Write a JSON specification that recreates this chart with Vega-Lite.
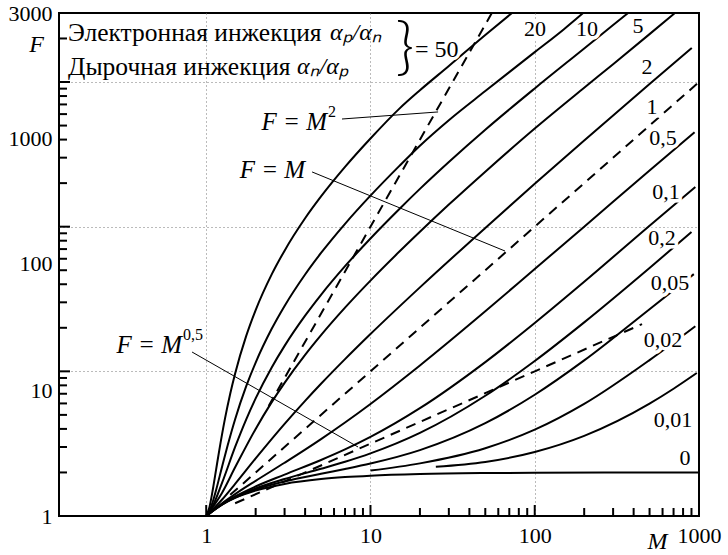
{
  "$schema": "https://vega.github.io/schema/vega-lite/v6.json",
  "width": 640,
  "height": 503,
  "autosize": {"type": "none"},
  "padding": {"left": 59, "top": 13, "right": 29, "bottom": 39},
  "background": "white",
  "config": {
    "view": {"stroke": "black", "strokeWidth": 2},
    "font": "Liberation Serif",
    "text": {"font": "Liberation Serif", "color": "black"}
  },
  "datasets": {
    "curves": [
      {"s": "50", "M": 1, "F": 1}, {"s": "50", "M": 1.05, "F": 1.17}, {"s": "50", "M": 1.1, "F": 1.55}, {"s": "50", "M": 1.15, "F": 2.11}, {"s": "50", "M": 1.2, "F": 2.83}, {"s": "50", "M": 1.3, "F": 4.69}, {"s": "50", "M": 1.4, "F": 7.0}, {"s": "50", "M": 1.5, "F": 9.67}, {"s": "50", "M": 1.75, "F": 17.5}, {"s": "50", "M": 2, "F": 26.5}, {"s": "50", "M": 2.5, "F": 46.6}, {"s": "50", "M": 3, "F": 68.3}, {"s": "50", "M": 4, "F": 114.3}, {"s": "50", "M": 5, "F": 161.8}, {"s": "50", "M": 7, "F": 259}, {"s": "50", "M": 10, "F": 406.9}, {"s": "50", "M": 15, "F": 655}, {"s": "50", "M": 20, "F": 877}, {"s": "50", "M": 30, "F": 1291}, {"s": "50", "M": 50, "F": 2115}, {"s": "50", "M": 72.7, "F": 3000},
      {"s": "20", "M": 1, "F": 1}, {"s": "20", "M": 1.05, "F": 1.095}, {"s": "20", "M": 1.1, "F": 1.27}, {"s": "20", "M": 1.15, "F": 1.52}, {"s": "20", "M": 1.25, "F": 2.2}, {"s": "20", "M": 1.35, "F": 3.07}, {"s": "20", "M": 1.5, "F": 4.67}, {"s": "20", "M": 1.75, "F": 7.86}, {"s": "20", "M": 2, "F": 11.5}, {"s": "20", "M": 2.5, "F": 19.6}, {"s": "20", "M": 3, "F": 28.33}, {"s": "20", "M": 4, "F": 46.75}, {"s": "20", "M": 5, "F": 65.8}, {"s": "20", "M": 7, "F": 104.7}, {"s": "20", "M": 10, "F": 163.9}, {"s": "20", "M": 15, "F": 263.3}, {"s": "20", "M": 20, "F": 363}, {"s": "20", "M": 30, "F": 545}, {"s": "20", "M": 50, "F": 866}, {"s": "20", "M": 70, "F": 1171}, {"s": "20", "M": 100, "F": 1609}, {"s": "20", "M": 150, "F": 2310}, {"s": "20", "M": 197, "F": 3000},
      {"s": "10", "M": 1, "F": 1}, {"s": "10", "M": 1.1, "F": 1.182}, {"s": "10", "M": 1.25, "F": 1.7}, {"s": "10", "M": 1.5, "F": 3}, {"s": "10", "M": 1.75, "F": 4.64}, {"s": "10", "M": 2, "F": 6.5}, {"s": "10", "M": 2.5, "F": 10.6}, {"s": "10", "M": 3, "F": 15}, {"s": "10", "M": 4, "F": 24.25}, {"s": "10", "M": 5, "F": 33.8}, {"s": "10", "M": 7, "F": 53.3}, {"s": "10", "M": 10, "F": 82.9}, {"s": "10", "M": 15, "F": 132.6}, {"s": "10", "M": 20, "F": 182.5}, {"s": "10", "M": 30, "F": 280}, {"s": "10", "M": 50, "F": 468}, {"s": "10", "M": 100, "F": 903}, {"s": "10", "M": 200, "F": 1705}, {"s": "10", "M": 300, "F": 2475}, {"s": "10", "M": 370, "F": 3000},
      {"s": "5", "M": 1, "F": 1}, {"s": "5", "M": 1.25, "F": 1.45}, {"s": "5", "M": 1.5, "F": 2.17}, {"s": "5", "M": 2, "F": 4}, {"s": "5", "M": 2.5, "F": 6.1}, {"s": "5", "M": 3, "F": 8.33}, {"s": "5", "M": 4, "F": 13}, {"s": "5", "M": 5, "F": 17.8}, {"s": "5", "M": 7, "F": 27.57}, {"s": "5", "M": 10, "F": 42.4}, {"s": "5", "M": 15, "F": 67.27}, {"s": "5", "M": 20, "F": 92.2}, {"s": "5", "M": 30, "F": 142.1}, {"s": "5", "M": 50, "F": 240}, {"s": "5", "M": 100, "F": 477}, {"s": "5", "M": 200, "F": 913}, {"s": "5", "M": 300, "F": 1328}, {"s": "5", "M": 500, "F": 2143}, {"s": "5", "M": 714, "F": 3000},
      {"s": "2", "M": 1, "F": 1}, {"s": "2", "M": 1.25, "F": 1.3}, {"s": "2", "M": 1.5, "F": 1.667}, {"s": "2", "M": 2, "F": 2.5}, {"s": "2", "M": 3, "F": 4.333}, {"s": "2", "M": 4, "F": 6.25}, {"s": "2", "M": 5, "F": 8.2}, {"s": "2", "M": 7, "F": 12.14}, {"s": "2", "M": 10, "F": 18.1}, {"s": "2", "M": 20, "F": 38.05}, {"s": "2", "M": 50, "F": 98.02}, {"s": "2", "M": 100, "F": 198}, {"s": "2", "M": 200, "F": 395}, {"s": "2", "M": 500, "F": 968}, {"s": "2", "M": 904, "F": 1718},
      {"s": "0,5", "M": 1, "F": 1}, {"s": "0,5", "M": 1.25, "F": 1.225}, {"s": "0,5", "M": 1.5, "F": 1.417}, {"s": "0,5", "M": 2, "F": 1.75}, {"s": "0,5", "M": 3, "F": 2.333}, {"s": "0,5", "M": 4, "F": 2.875}, {"s": "0,5", "M": 5, "F": 3.4}, {"s": "0,5", "M": 7, "F": 4.429}, {"s": "0,5", "M": 10, "F": 5.95}, {"s": "0,5", "M": 20, "F": 10.98}, {"s": "0,5", "M": 50, "F": 25.99}, {"s": "0,5", "M": 100, "F": 51}, {"s": "0,5", "M": 200, "F": 100}, {"s": "0,5", "M": 500, "F": 245}, {"s": "0,5", "M": 940, "F": 450},
      {"s": "0,1", "M": 1, "F": 1}, {"s": "0,1", "M": 1.25, "F": 1.21}, {"s": "0,1", "M": 1.5, "F": 1.367}, {"s": "0,1", "M": 2, "F": 1.6}, {"s": "0,1", "M": 3, "F": 1.933}, {"s": "0,1", "M": 5, "F": 2.44}, {"s": "0,1", "M": 7, "F": 2.886}, {"s": "0,1", "M": 10, "F": 3.52}, {"s": "0,1", "M": 20, "F": 5.56}, {"s": "0,1", "M": 50, "F": 11.58}, {"s": "0,1", "M": 100, "F": 21.59}, {"s": "0,1", "M": 200, "F": 41.6}, {"s": "0,1", "M": 500, "F": 101.6}, {"s": "0,1", "M": 950, "F": 188},
      {"s": "0,2", "M": 1, "F": 1}, {"s": "0,2", "M": 1.25, "F": 1.205}, {"s": "0,2", "M": 1.5, "F": 1.35}, {"s": "0,2", "M": 2, "F": 1.55}, {"s": "0,2", "M": 3, "F": 1.8}, {"s": "0,2", "M": 5, "F": 2.12}, {"s": "0,2", "M": 7, "F": 2.371}, {"s": "0,2", "M": 10, "F": 2.71}, {"s": "0,2", "M": 20, "F": 3.755}, {"s": "0,2", "M": 50, "F": 6.782}, {"s": "0,2", "M": 100, "F": 11.79}, {"s": "0,2", "M": 200, "F": 21.8}, {"s": "0,2", "M": 500, "F": 51.8}, {"s": "0,2", "M": 900, "F": 91.8},
      {"s": "0,05", "M": 1, "F": 1}, {"s": "0,05", "M": 1.25, "F": 1.2025}, {"s": "0,05", "M": 1.5, "F": 1.342}, {"s": "0,05", "M": 2, "F": 1.525}, {"s": "0,05", "M": 3, "F": 1.733}, {"s": "0,05", "M": 5, "F": 1.96}, {"s": "0,05", "M": 7, "F": 2.114}, {"s": "0,05", "M": 10, "F": 2.305}, {"s": "0,05", "M": 20, "F": 2.853}, {"s": "0,05", "M": 50, "F": 4.381}, {"s": "0,05", "M": 100, "F": 6.89}, {"s": "0,05", "M": 200, "F": 11.9}, {"s": "0,05", "M": 500, "F": 26.9}, {"s": "0,05", "M": 930, "F": 47},
      {"s": "0,02", "M": 10, "F": 2.062}, {"s": "0,02", "M": 20, "F": 2.311}, {"s": "0,02", "M": 50, "F": 2.94}, {"s": "0,02", "M": 100, "F": 3.95}, {"s": "0,02", "M": 200, "F": 5.955}, {"s": "0,02", "M": 500, "F": 11.96}, {"s": "0,02", "M": 950, "F": 20.5},
      {"s": "0,01", "M": 25, "F": 2.19}, {"s": "0,01", "M": 50, "F": 2.364}, {"s": "0,01", "M": 100, "F": 2.77}, {"s": "0,01", "M": 200, "F": 3.58}, {"s": "0,01", "M": 500, "F": 5.98}, {"s": "0,01", "M": 700, "F": 7.58}, {"s": "0,01", "M": 970, "F": 9.74},
      {"s": "0", "M": 1, "F": 1}, {"s": "0", "M": 1.25, "F": 1.2}, {"s": "0", "M": 1.5, "F": 1.333}, {"s": "0", "M": 2, "F": 1.5}, {"s": "0", "M": 3, "F": 1.667}, {"s": "0", "M": 5, "F": 1.8}, {"s": "0", "M": 7, "F": 1.857}, {"s": "0", "M": 10, "F": 1.9}, {"s": "0", "M": 20, "F": 1.95}, {"s": "0", "M": 50, "F": 1.98}, {"s": "0", "M": 100, "F": 1.99}, {"s": "0", "M": 1000, "F": 1.999}
    ],
    "powers": [
      {"s": "F = M²", "M": 2.4, "F": 5.76}, {"s": "F = M²", "M": 54.8, "F": 3000},
      {"s": "F = M", "M": 1.4, "F": 1.4}, {"s": "F = M", "M": 1000, "F": 1000},
      {"s": "F = M^0,5", "M": 1.5, "F": 1.225}, {"s": "F = M^0,5", "M": 450, "F": 21.21}
    ],
    "leaders": [
      {"M": 6.71, "F": 555, "M2": 25.8, "F2": 621},
      {"M": 4.41, "F": 239, "M2": 65.9, "F2": 67.9},
      {"M": 0.82, "F": 13.6, "M2": 8.4, "F2": 3.0}
    ],
    "xMinor": [
      {"M": 2}, {"M": 3}, {"M": 4}, {"M": 5}, {"M": 6}, {"M": 7}, {"M": 8}, {"M": 9},
      {"M": 20}, {"M": 30}, {"M": 40}, {"M": 50}, {"M": 60}, {"M": 70}, {"M": 80}, {"M": 90},
      {"M": 200}, {"M": 300}, {"M": 400}, {"M": 500}, {"M": 600}, {"M": 700}, {"M": 800}, {"M": 900}
    ],
    "xMajor": [{"M": 1}, {"M": 10}, {"M": 100}],
    "yMinor": [
      {"F": 2}, {"F": 3}, {"F": 4}, {"F": 5}, {"F": 6}, {"F": 7}, {"F": 8}, {"F": 9},
      {"F": 20}, {"F": 30}, {"F": 40}, {"F": 50}, {"F": 60}, {"F": 70}, {"F": 80}, {"F": 90},
      {"F": 200}, {"F": 300}, {"F": 400}, {"F": 500}, {"F": 600}, {"F": 700}, {"F": 800}, {"F": 900},
      {"F": 2000}
    ],
    "yMajor": [{"F": 10}, {"F": 100}, {"F": 1000}],
    "curveLabels": [
      {"t": "20", "M": 100.4, "F": 2326}, {"t": "10", "M": 208, "F": 2326}, {"t": "5", "M": 425, "F": 2440},
      {"t": "2", "M": 482.5, "F": 1270}, {"t": "1", "M": 517.5, "F": 672}, {"t": "0,5", "M": 603.6, "F": 410},
      {"t": "0,1", "M": 629.5, "F": 173.7}, {"t": "0,2", "M": 595, "F": 83.5}, {"t": "0,05", "M": 666, "F": 40.8},
      {"t": "0,02", "M": 603.6, "F": 16.47}, {"t": "0,01", "M": 694.5, "F": 4.61}, {"t": "0", "M": 821.7, "F": 2.517}
    ],
    "formulas": [
      {"t": "F = M", "M": 5.44, "F": 529},
      {"t": "F = M", "M": 4.0, "F": 246.5},
      {"t": "F = M", "M": 0.712, "F": 15.21}
    ],
    "exponents": [
      {"t": "2", "M": 5.51, "F": 620.6},
      {"t": "0,5", "M": 0.722, "F": 17.83}
    ],
    "legendWords": [
      {"t": "Электронная инжекция", "M": 0.1441, "F": 2183},
      {"t": "Дырочная инжекция", "M": 0.1441, "F": 1270}
    ],
    "legendRatios": [
      {"t": "αₚ/αₙ", "M": 5.67, "F": 2183},
      {"t": "αₙ/αₚ", "M": 3.57, "F": 1270}
    ],
    "brace": [{"t": "}", "M": 16.2, "F": 1691}],
    "braceValue": [{"t": "= 50", "M": 18.67, "F": 1665}]
  },
  "layer": [
    {
      "data": {"name": "curves"},
      "mark": {"type": "line", "color": "black", "strokeWidth": 2, "interpolate": "monotone", "clip": true},
      "encoding": {
        "x": {
          "field": "M", "type": "quantitative",
          "scale": {"type": "log", "domain": [0.127, 1000], "nice": false},
          "axis": {
            "values": [1, 10, 100, 1000],
            "labelExpr": "format(datum.value, 'd')",
            "domain": false,
            "ticks": false,
            "grid": true,
            "gridColor": "#777777",
            "gridDash": [1, 3],
            "gridWidth": 1,
            "gridOpacity": {"condition": {"test": "datum.value == 1000", "value": 0}, "value": 1},
            "labelFont": "Liberation Serif",
            "labelFontSize": 22,
            "labelColor": "black",
            "labelPadding": 9,
            "labelFlush": false,
            "labelOverlap": false,
            "title": "M",
            "titleFont": "Liberation Serif",
            "titleFontSize": 24,
            "titleFontStyle": "italic",
            "titleFontWeight": "normal",
            "titleColor": "black",
            "titleX": 598,
            "titleY": 25,
            "titleAlign": "center",
            "titleBaseline": "middle"
          }
        },
        "y": {
          "field": "F", "type": "quantitative",
          "scale": {"type": "log", "domain": [1, 3000], "nice": false},
          "axis": {
            "values": [1, 10, 100, 1000, 3000],
            "labelExpr": "datum.value == 3000 ? '3000\u00a0\u00a0' : format(datum.value, 'd')",
            "labelOffset": {"condition": [
              {"test": "datum.value == 10", "value": 19},
              {"test": "datum.value == 100", "value": 37},
              {"test": "datum.value == 1000", "value": 56}
            ], "value": 0},
            "domain": false,
            "ticks": false,
            "grid": true,
            "gridColor": "#777777",
            "gridDash": [1, 3],
            "gridWidth": 1,
            "gridOpacity": {"condition": {"test": "datum.value == 1 || datum.value == 3000", "value": 0}, "value": 1},
            "labelFont": "Liberation Serif",
            "labelFontSize": 22,
            "labelColor": "black",
            "labelPadding": 7,
            "labelFlush": false,
            "labelOverlap": false,
            "title": "F",
            "titleFont": "Liberation Serif",
            "titleFontSize": 24,
            "titleFontStyle": "italic",
            "titleFontWeight": "normal",
            "titleColor": "black",
            "titleAngle": 0,
            "titleX": -23,
            "titleY": 31,
            "titleAlign": "center",
            "titleBaseline": "middle"
          }
        },
        "detail": {"field": "s", "type": "nominal"}
      }
    },
    {
      "data": {"name": "powers"},
      "mark": {"type": "line", "color": "black", "strokeWidth": 2, "strokeDash": [10, 7], "clip": true},
      "encoding": {
        "x": {"field": "M", "type": "quantitative"},
        "y": {"field": "F", "type": "quantitative"},
        "detail": {"field": "s", "type": "nominal"}
      }
    },
    {
      "data": {"name": "leaders"},
      "mark": {"type": "rule", "color": "black", "strokeWidth": 1},
      "encoding": {
        "x": {"field": "M", "type": "quantitative"},
        "y": {"field": "F", "type": "quantitative"},
        "x2": {"field": "M2"},
        "y2": {"field": "F2"}
      }
    },
    {
      "data": {"name": "curveLabels"},
      "mark": {"type": "text", "fontSize": 22, "align": "center", "baseline": "middle", "stroke": "white", "strokeWidth": 7, "fill": "white"},
      "encoding": {
        "x": {"field": "M", "type": "quantitative"},
        "y": {"field": "F", "type": "quantitative"},
        "text": {"field": "t"}
      }
    },
    {
      "data": {"name": "curveLabels"},
      "mark": {"type": "text", "fontSize": 22, "align": "center", "baseline": "middle"},
      "encoding": {
        "x": {"field": "M", "type": "quantitative"},
        "y": {"field": "F", "type": "quantitative"},
        "text": {"field": "t"}
      }
    },
    {
      "data": {"name": "formulas"},
      "mark": {"type": "text", "fontSize": 25, "fontStyle": "italic", "align": "right", "baseline": "middle"},
      "encoding": {
        "x": {"field": "M", "type": "quantitative"},
        "y": {"field": "F", "type": "quantitative"},
        "text": {"field": "t"}
      }
    },
    {
      "data": {"name": "exponents"},
      "mark": {"type": "text", "fontSize": 16, "align": "left", "baseline": "middle"},
      "encoding": {
        "x": {"field": "M", "type": "quantitative"},
        "y": {"field": "F", "type": "quantitative"},
        "text": {"field": "t"}
      }
    },
    {
      "data": {"name": "legendWords"},
      "mark": {"type": "text", "fontSize": 25.5, "align": "left", "baseline": "middle"},
      "encoding": {
        "x": {"field": "M", "type": "quantitative"},
        "y": {"field": "F", "type": "quantitative"},
        "text": {"field": "t"}
      }
    },
    {
      "data": {"name": "legendRatios"},
      "mark": {"type": "text", "fontSize": 24, "fontStyle": "italic", "align": "left", "baseline": "middle"},
      "encoding": {
        "x": {"field": "M", "type": "quantitative"},
        "y": {"field": "F", "type": "quantitative"},
        "text": {"field": "t"}
      }
    },
    {
      "data": {"name": "brace"},
      "mark": {"type": "text", "font": "Lato", "fontWeight": 300, "fontSize": 64, "align": "center", "baseline": "middle"},
      "encoding": {
        "x": {"field": "M", "type": "quantitative"},
        "y": {"field": "F", "type": "quantitative"},
        "text": {"field": "t"}
      }
    },
    {
      "data": {"name": "braceValue"},
      "mark": {"type": "text", "fontSize": 24, "align": "left", "baseline": "middle", "stroke": "white", "strokeWidth": 6, "fill": "white"},
      "encoding": {
        "x": {"field": "M", "type": "quantitative"},
        "y": {"field": "F", "type": "quantitative"},
        "text": {"field": "t"}
      }
    },
    {
      "data": {"name": "braceValue"},
      "mark": {"type": "text", "fontSize": 24, "align": "left", "baseline": "middle"},
      "encoding": {
        "x": {"field": "M", "type": "quantitative"},
        "y": {"field": "F", "type": "quantitative"},
        "text": {"field": "t"}
      }
    },
    {
      "data": {"name": "xMinor"},
      "transform": [{"calculate": "1", "as": "F"}, {"calculate": "1.136", "as": "F2"}],
      "mark": {"type": "rule", "color": "black", "strokeWidth": 2},
      "encoding": {
        "x": {"field": "M", "type": "quantitative"},
        "y": {"field": "F", "type": "quantitative"},
        "y2": {"field": "F2"}
      }
    },
    {
      "data": {"name": "xMajor"},
      "transform": [{"calculate": "1", "as": "F"}, {"calculate": "1.191", "as": "F2"}],
      "mark": {"type": "rule", "color": "black", "strokeWidth": 2},
      "encoding": {
        "x": {"field": "M", "type": "quantitative"},
        "y": {"field": "F", "type": "quantitative"},
        "y2": {"field": "F2"}
      }
    },
    {
      "data": {"name": "yMinor"},
      "transform": [{"calculate": "0.127", "as": "M"}, {"calculate": "0.1421", "as": "M2"}],
      "mark": {"type": "rule", "color": "black", "strokeWidth": 2},
      "encoding": {
        "y": {"field": "F", "type": "quantitative"},
        "x": {"field": "M", "type": "quantitative"},
        "x2": {"field": "M2"}
      }
    },
    {
      "data": {"name": "yMajor"},
      "transform": [{"calculate": "0.127", "as": "M"}, {"calculate": "0.1482", "as": "M2"}],
      "mark": {"type": "rule", "color": "black", "strokeWidth": 2},
      "encoding": {
        "y": {"field": "F", "type": "quantitative"},
        "x": {"field": "M", "type": "quantitative"},
        "x2": {"field": "M2"}
      }
    }
  ]
}
